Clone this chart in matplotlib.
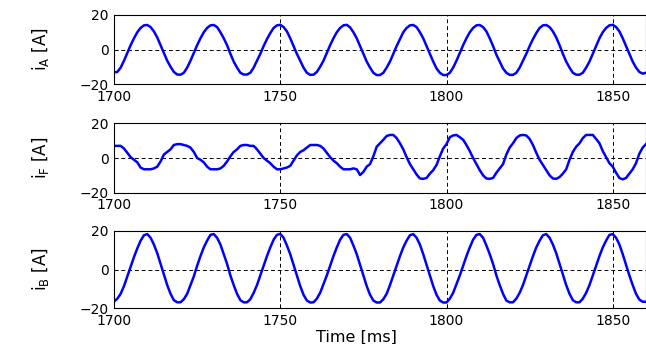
import matplotlib
matplotlib.use('Agg')
import matplotlib.pyplot as plt
import numpy as np

# currents, one sample per ms
time_ms = np.arange(1700, 1861)

i_A = [-13.3, -13.0, -10.5, -6.5, -2.0, 2.5, 6.5, 10.0, 12.5, 14.0, 14.2, 13.0, 10.5, 7.0, 2.5, -2.0, -6.5, -10.0, -13.0, -14.5,
       -14.6, -13.5, -10.5, -6.5, -2.0, 2.5, 6.5, 10.0, 12.5, 14.0, 14.2, 13.0, 10.0, 6.5, 2.5, -2.5, -7.0, -10.5, -13.5, -14.5,
       -14.5, -13.5, -10.5, -6.5, -2.5, 2.0, 6.0, 9.5, 12.5, 14.0, 14.3, 13.0, 10.5, 6.5, 2.0, -2.5, -6.5, -10.5, -13.5, -14.7,
       -14.6, -13.0, -10.0, -6.5, -2.0, 2.5, 6.5, 10.0, 12.5, 14.0, 14.3, 12.8, 10.0, 6.5, 2.0, -2.5, -7.0, -10.5, -13.5, -14.8,
       -14.8, -13.5, -10.5, -7.0, -2.5, 2.0, 6.0, 10.0, 12.5, 14.0, 14.2, 13.0, 10.0, 6.5, 2.0, -2.5, -7.0, -11.0, -13.5, -14.8,
       -14.8, -13.5, -10.5, -6.5, -2.0, 2.5, 6.5, 10.0, 12.5, 14.0, 14.2, 13.0, 10.5, 6.5, 2.0, -3.0, -7.0, -11.0, -13.5, -14.7,
       -14.7, -13.5, -10.5, -6.5, -2.5, 2.0, 6.0, 9.5, 12.5, 14.0, 14.2, 13.0, 10.5, 7.0, 2.5, -2.5, -7.0, -10.5, -13.5, -14.6,
       -14.6, -13.5, -10.5, -7.0, -2.5, 2.0, 6.5, 10.0, 12.5, 14.0, 14.3, 13.0, 10.5, 6.5, 2.0, -2.5, -7.0, -10.5, -13.0, -14.0,
       -13.5]

i_F = [7.0, 7.0, 7.0, 5.5, 3.0, 0.5, -1.0, -2.5, -5.5, -6.5, -6.5, -6.5, -6.0, -5.0, -2.0, 2.0, 3.5, 5.0, 7.5, 8.0,
       8.0, 7.5, 7.0, 6.0, 3.5, 0.0, -1.0, -2.5, -5.0, -6.5, -6.5, -6.5, -6.0, -4.5, -2.0, 1.0, 3.5, 5.0, 7.0, 7.5,
       7.5, 7.0, 7.0, 5.0, 2.5, 0.0, -1.5, -3.0, -5.0, -6.5, -6.5, -6.0, -5.5, -4.5, -1.5, 1.5, 3.5, 4.5, 6.0, 7.5,
       7.5, 7.5, 7.0, 5.5, 3.0, 0.5, -1.5, -3.0, -5.0, -6.5, -6.5, -6.5, -6.0, -6.5, -9.8, -8.0, -5.0, -3.5, 1.0, 6.5,
       8.5, 10.5, 12.7, 13.3, 13.3, 11.5, 8.5, 5.0, 0.5, -3.5, -6.5, -9.5, -11.8, -12.0, -11.5, -9.0, -7.0, -4.0, 1.0, 5.5,
       8.0, 12.0, 13.0, 13.3, 12.0, 10.5, 7.5, 4.0, 0.0, -3.5, -7.0, -10.0, -11.8, -12.0, -11.5, -8.5, -6.0, -3.5, 2.0, 6.0,
       8.5, 11.5, 13.0, 13.3, 13.0, 11.0, 7.5, 3.0, -1.0, -4.0, -7.0, -10.0, -11.8, -12.0, -11.0, -9.0, -6.5, -1.0, 3.5, 6.5,
       8.5, 11.5, 13.3, 13.3, 13.3, 11.0, 8.5, 4.0, 0.5, -3.0, -5.0, -8.5, -11.5, -12.3, -11.5, -9.0, -6.5, -3.0, 2.5, 6.0,
       8.0]

i_B = [-16.5, -15.0, -12.5, -8.5, -3.5, 1.5, 6.5, 11.0, 15.0, 17.8, 18.4, 16.5, 13.0, 8.5, 3.0, -2.5, -8.0, -12.5, -15.8, -16.9,
       -16.9, -15.3, -12.5, -8.0, -3.5, 2.0, 7.0, 11.5, 15.0, 18.0, 18.4, 16.5, 13.0, 8.0, 3.0, -3.0, -8.0, -12.5, -15.8, -16.9,
       -16.9, -15.3, -12.0, -8.0, -3.0, 2.0, 7.0, 11.5, 15.5, 18.0, 18.5, 16.5, 12.5, 8.0, 2.5, -3.0, -8.5, -13.0, -16.0, -17.0,
       -16.9, -15.0, -12.0, -7.5, -3.0, 2.0, 7.0, 11.5, 15.5, 18.0, 18.4, 16.5, 12.5, 8.0, 2.5, -3.0, -8.5, -13.0, -16.0, -17.0,
       -17.0, -15.3, -12.5, -8.0, -3.0, 2.0, 7.0, 11.5, 15.0, 17.8, 18.4, 16.5, 13.0, 8.0, 2.5, -3.0, -8.5, -13.0, -16.0, -17.0,
       -17.0, -15.0, -12.0, -7.5, -3.0, 2.0, 7.0, 11.5, 15.5, 18.0, 18.4, 16.5, 12.5, 8.0, 3.0, -3.0, -8.0, -12.5, -16.0, -16.9,
       -16.9, -15.0, -12.0, -8.0, -3.0, 2.0, 7.0, 11.5, 15.0, 17.8, 18.4, 16.5, 13.0, 8.5, 3.0, -2.5, -8.0, -12.5, -15.8, -16.9,
       -16.9, -15.0, -12.0, -8.0, -3.0, 2.0, 7.0, 11.5, 15.0, 18.0, 18.4, 16.5, 13.0, 8.0, 2.5, -3.0, -8.0, -12.5, -15.5, -16.6,
       -16.6]

y_labels = [r'i$_{\rm A}$ [A]', r'i$_{\rm F}$ [A]', r'i$_{\rm B}$ [A]']
x_ticks = [1700, 1750, 1800, 1850]
y_ticks = [-20, 0, 20]

fig = plt.figure(figsize=(6.46, 3.44), dpi=100)

# [left, bottom, width, height] of each panel in figure fractions
boxes = [[0.1765, 0.7558, 0.8235, 0.2006],
         [0.1765, 0.4398, 0.8235, 0.2017],
         [0.1765, 0.1038, 0.8235, 0.2247]]

for box, current, label in zip(boxes, [i_A, i_F, i_B], y_labels):
    ax = fig.add_axes(box)
    ax.plot(time_ms, current, color='#0000ff', lw=1.8)
    ax.set_xlim(1700, 1860)
    ax.set_ylim(-20, 20)
    ax.set_xticks(x_ticks)
    ax.set_yticks(y_ticks)
    ax.grid(True, color='k', ls=(0, (4, 3)), lw=0.7)
    ax.tick_params(direction='in', length=3, width=0.7, labelsize=10, pad=4)
    for s in ax.spines.values():
        s.set_linewidth(0.8)
    ax.set_ylabel(label, fontsize=12, va='center')
    ax.yaxis.set_label_coords(-0.139, 0.5)

ax.set_xlabel('Time [ms]', fontsize=11.5, va='center')
ax.xaxis.set_label_coords(0.455, -0.37)

fig.savefig('out.png', dpi=100)
